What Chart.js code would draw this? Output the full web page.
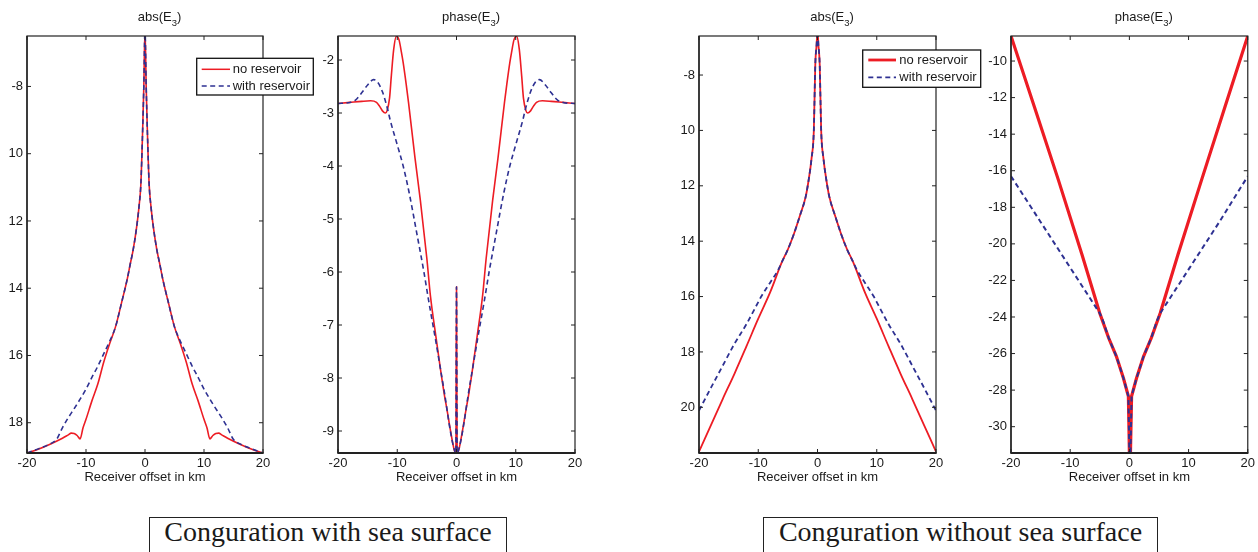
<!DOCTYPE html>
<html>
<head>
<meta charset="utf-8">
<script src="https://cdn.jsdelivr.net/npm/chart.js@4/dist/chart.umd.min.js"></script>
<style>
  html, body { margin: 0; padding: 0; background: #fff; width: 1258px; height: 552px; overflow: hidden; position: relative; }
  canvas { position: absolute; top: 0; }
  .caption {
    position: absolute; top: 517px; height: 44px; box-sizing: border-box;
    border: 1.3px solid #222; background: #fff;
    font: 28px "Liberation Serif", "Times New Roman", serif; line-height: 28px;
    color: #1a1a1a; text-align: center; white-space: nowrap;
  }
</style>
</head>
<body>
<canvas id="p1"></canvas>
<canvas id="p2"></canvas>
<canvas id="p3"></canvas>
<canvas id="p4"></canvas>
<div class="caption" style="left:149px; width:358px;">Conguration with sea surface</div>
<div class="caption" style="left:763px; width:395px;">Conguration without sea surface</div>
<script>
// ---- shared axis data ----
const offsetTicks = [-20, -10, 0, 10, 20];
const offsetLabels = ['-20', '-10', '0', '10', '20'];
const seriesNames = ['no reservoir', 'with reservoir'];

// ---- abs(E3), with sea surface ----
const absSeaTicks = [-8, -10, -12, -14, -16, -18];
const absSeaLabels = ['-8', '10', '12', '14', '16', '18'];
const absSeaNoResX = [-20,-18,-16,-14,-13,-12.5,-12,-11.5,-11,-10.5,-10,-9,-8,-7,-6,-5,-4,-3,-2.5,-2,-1.5,-1,-0.7,-0.4,-0.2,0,
  0.2,0.4,0.7,1,1.5,2,2.5,3,4,5,6,7,8,9,10,10.5,11,11.5,12,12.5,13,14,16,18,20];
const absSeaNoRes = [-18.9,-18.78,-18.63,-18.46,-18.36,-18.31,-18.32,-18.38,-18.48,-18.15,-17.9,-17.35,-16.85,-16.2,-15.65,-15.15,-14.45,-13.72,-13.28,-12.85,-12.29,-11.55,-10.9,-9.31,-8.0,-6.3,
  -8.0,-9.31,-10.9,-11.55,-12.29,-12.85,-13.28,-13.72,-14.45,-15.15,-15.65,-16.2,-16.85,-17.35,-17.9,-18.15,-18.48,-18.38,-18.32,-18.31,-18.36,-18.46,-18.63,-18.78,-18.9];
const absSeaWithResX = [-20,-18,-16,-15,-14,-13,-12,-11,-10,-9,-8,-7,-6,-5,-4,-3,-2.5,-2,-1.5,-1,-0.7,-0.4,-0.2,0,
  0.2,0.4,0.7,1,1.5,2,2.5,3,4,5,6,7,8,9,10,11,12,13,14,15,16,18,20];
const absSeaWithRes = [-18.9,-18.77,-18.62,-18.5,-18.15,-17.85,-17.58,-17.3,-17.0,-16.65,-16.32,-15.95,-15.58,-15.15,-14.45,-13.72,-13.28,-12.85,-12.29,-11.55,-10.9,-9.31,-8.0,-6.3,
  -8.0,-9.31,-10.9,-11.55,-12.29,-12.85,-13.28,-13.72,-14.45,-15.15,-15.58,-15.95,-16.32,-16.65,-17.0,-17.3,-17.58,-17.85,-18.15,-18.5,-18.62,-18.77,-18.9];

// ---- phase(E3), with sea surface ----
const phaseSeaTicks = [-2, -3, -4, -5, -6, -7, -8, -9];
const phaseSeaLabels = ['-2', '-3', '-4', '-5', '-6', '-7', '-8', '-9'];
const phaseSeaNoResX = [-20,-18,-16,-14.5,-13.5,-13,-12.5,-12,-11.7,-11.3,-11,-10.6,-10.15,-9.7,-9.3,-9,-8.5,-8.1,-7,-6.1,-5,-4.4,-3.5,-2.75,-2,-1.6,-1,-0.4,-0.1,0,
  0.1,0.4,1,1.6,2,2.75,3.5,4.4,5,6.1,7,8.1,8.5,9,9.3,9.7,10.15,10.6,11,11.3,11.7,12,12.5,13,13.5,14.5,16,18,20];
const phaseSeaNoRes = [-2.82,-2.8,-2.78,-2.77,-2.8,-2.87,-2.96,-3.0,-2.95,-2.72,-2.3,-1.8,-1.55,-1.62,-1.85,-2.05,-2.45,-2.8,-3.85,-4.65,-5.75,-6.45,-7.2,-7.8,-8.35,-8.6,-9.0,-9.35,-9.42,-6.28,
  -9.42,-9.35,-9.0,-8.6,-8.35,-7.8,-7.2,-6.45,-5.75,-4.65,-3.85,-2.8,-2.45,-2.05,-1.85,-1.62,-1.55,-1.8,-2.3,-2.72,-2.95,-3.0,-2.96,-2.87,-2.8,-2.77,-2.78,-2.8,-2.82];
const phaseSeaWithResX = [-20,-18,-17,-16,-15,-14,-13.3,-12.5,-11.6,-11.2,-10,-9,-8,-6.7,-5.5,-4.7,-3.5,-2.75,-2,-1.07,-0.5,-0.1,0,
  0.1,0.5,1.07,2,2.75,3.5,4.7,5.5,6.7,8,9,10,11.2,11.6,12.5,13.3,14,15,16,17,18,20];
const phaseSeaWithRes = [-2.82,-2.8,-2.75,-2.62,-2.47,-2.37,-2.42,-2.6,-2.94,-3.13,-3.6,-4.0,-4.5,-5.27,-6.0,-6.54,-7.3,-7.8,-8.3,-8.98,-9.3,-9.42,-6.28,
  -9.42,-9.3,-8.98,-8.3,-7.8,-7.3,-6.54,-6.0,-5.27,-4.5,-4.0,-3.6,-3.13,-2.94,-2.6,-2.42,-2.37,-2.47,-2.62,-2.75,-2.8,-2.82];

// ---- abs(E3), without sea surface ----
const absAirTicks = [-8, -10, -12, -14, -16, -18, -20];
const absAirLabels = ['-8', '10', '12', '14', '16', '18', '20'];
const absAirNoResX = [-20,-18,-16,-14,-12,-10,-8,-6,-5,-4,-3,-2,-1.5,-1,-0.62,-0.37,-0.15,0,
  0.15,0.37,0.62,1,1.5,2,3,4,5,6,8,10,12,14,16,18,20];
const absAirNoRes = [-21.6,-20.65,-19.7,-18.78,-17.8,-16.8,-15.85,-14.75,-14.3,-13.75,-13.1,-12.4,-11.8,-11.0,-10.0,-7.6,-6.9,-6.4,
  -6.9,-7.6,-10.0,-11.0,-11.8,-12.4,-13.1,-13.75,-14.3,-14.75,-15.85,-16.8,-17.8,-18.78,-19.7,-20.65,-21.6];
const absAirWithResX = [-20,-18,-16,-14,-12,-10,-9.5,-8,-6.6,-6,-5,-4,-3,-2,-1.5,-1,-0.62,-0.37,-0.15,0,
  0.15,0.37,0.62,1,1.5,2,3,4,5,6,6.6,8,9.5,10,12,14,16,18,20];
const absAirWithRes = [-20.12,-19.3,-18.5,-17.7,-17.0,-16.2,-16.0,-15.5,-15.02,-14.75,-14.3,-13.75,-13.1,-12.4,-11.8,-11.0,-10.0,-7.6,-6.9,-6.4,
  -6.9,-7.6,-10.0,-11.0,-11.8,-12.4,-13.1,-13.75,-14.3,-14.75,-15.02,-15.5,-16.0,-16.2,-17.0,-17.7,-18.5,-19.3,-20.12];

// ---- phase(E3), without sea surface ----
const phaseAirTicks = [-10, -12, -14, -16, -18, -20, -22, -24, -26, -28, -30];
const phaseAirLabels = ['-10', '-12', '-14', '-16', '-18', '-20', '-22', '-24', '-26', '-28', '-30'];
const phaseAirNoResX = [-20,-16,-12,-8,-5,-3.5,-2.2,-1,-0.17,0.09,0.37,1.2,2.4,3.7,5.2,8.2,12.2,16.1,20];
const phaseAirNoRes = [-8.63,-12.55,-16.5,-20.6,-23.8,-25.15,-26.15,-27.35,-28.34,-33,-28.34,-27.35,-26.15,-25.15,-23.8,-20.6,-16.5,-12.55,-8.63];
const phaseAirWithResX = [-20,-15,-10,-7,-5,-4.4,-3.5,-2.2,-1,-0.17,0.09,0.37,1.2,2.4,3.7,4.6,5.2,7.2,10.2,15.2,20];
const phaseAirWithRes = [-16.3,-18.8,-21.3,-22.8,-23.8,-24.25,-25.15,-26.15,-27.35,-28.34,-33,-28.34,-27.35,-26.15,-25.15,-24.25,-23.8,-22.8,-21.3,-18.8,-16.3];

// ---- styling ----
const RED = '#ed1c24';
const BLUE = '#2e3192';
const INK = '#1a1a1a';
const FONT = '"Liberation Sans", Arial, sans-serif';
const CANVAS_H = 500;
const PLOT_TOP = 36;
const PLOT_BOTTOM = 453;

const panels = [
  { id: 'p1', left: 0, axisW: 27, plotW: 236, padR: 52,
    title: ['abs(E', '3', ')'], yMin: -18.9, yMax: -6.5, yTicks: absSeaTicks, yLabels: absSeaLabels,
    redX: absSeaNoResX, redY: absSeaNoRes, blueX: absSeaWithResX, blueY: absSeaWithRes,
    redW: 1.6, blueW: 1.6, smooth: true,
    legend: { x: 169.7, y: 22.3, w: 116.6, h: 36.7, rows: [11, 27.7], l0: 5, l1: 33.3, tx: 36, redW: 1.5, blueW: 1.6 } },
  { id: 'p2', left: 298, axisW: 40, plotW: 237, padR: 20,
    title: ['phase(E', '3', ')'], yMin: -9.415, yMax: -1.547, yTicks: phaseSeaTicks, yLabels: phaseSeaLabels,
    redX: phaseSeaNoResX, redY: phaseSeaNoRes, blueX: phaseSeaWithResX, blueY: phaseSeaWithRes,
    redW: 1.6, blueW: 1.6, smooth: true, legend: null },
  { id: 'p3', left: 659, axisW: 40, plotW: 237, padR: 46,
    title: ['abs(E', '3', ')'], yMin: -21.65, yMax: -6.59, yTicks: absAirTicks, yLabels: absAirLabels,
    redX: absAirNoResX, redY: absAirNoRes, blueX: absAirWithResX, blueY: absAirWithRes,
    redW: 1.8, blueW: 1.8, smooth: true,
    legend: { x: 163.7, y: 14, w: 118, h: 37.3, rows: [10, 27.3], l0: 5.6, l1: 33.3, tx: 36.6, redW: 2.8, blueW: 1.8 } },
  { id: 'p4', left: 971, axisW: 40, plotW: 237, padR: 10,
    title: ['phase(E', '3', ')'], yMin: -31.44, yMax: -8.63, yTicks: phaseAirTicks, yLabels: phaseAirLabels,
    redX: phaseAirNoResX, redY: phaseAirNoRes, blueX: phaseAirWithResX, blueY: phaseAirWithRes,
    redW: 3.2, blueW: 2.0, smooth: false, legend: null }
];

function toPoints(xs, ys) {
  return xs.map((x, i) => ({ x: x, y: ys[i] }));
}

// Box, inward ticks, subscripted title and legend for one panel
function makeDecor(p) {
  return {
    id: 'panelDecor',
    afterDraw(chart) {
      const { ctx, chartArea: a, scales } = chart;
      const xs = scales.x, ys = scales.y;
      const line = (x0, y0, x1, y1) => { ctx.beginPath(); ctx.moveTo(x0, y0); ctx.lineTo(x1, y1); ctx.stroke(); };
      ctx.save();
      ctx.strokeStyle = '#222';
      ctx.lineWidth = 1.2;
      ctx.strokeRect(a.left, a.top, a.right - a.left, a.bottom - a.top);
      ctx.lineWidth = 2;
      line(a.left - 0.5, a.bottom, a.right + 0.5, a.bottom);
      ctx.lineWidth = 1.4;
      line(a.left, a.top, a.left, a.bottom);

      ctx.lineWidth = 1;
      const tl = 4;
      xs.ticks.forEach(t => {
        const px = xs.getPixelForValue(t.value);
        line(px, a.bottom, px, a.bottom - tl);
        line(px, a.top, px, a.top + tl);
      });
      ys.ticks.forEach(t => {
        const py = ys.getPixelForValue(t.value);
        line(a.left, py, a.left + tl, py);
        line(a.right, py, a.right - tl, py);
      });

      // title with subscript
      const [base, sub, tail] = p.title;
      const mainFont = '13px ' + FONT, subFont = '9.5px ' + FONT;
      ctx.font = mainFont; const wb = ctx.measureText(base).width; const wt = ctx.measureText(tail).width;
      ctx.font = subFont; const ws = ctx.measureText(sub).width;
      const cx = (a.left + a.right) / 2 + 14.5;
      let tx = cx - (wb + ws + wt) / 2;
      ctx.fillStyle = INK;
      ctx.textAlign = 'left';
      ctx.textBaseline = 'alphabetic';
      ctx.font = mainFont; ctx.fillText(base, tx, 21); tx += wb;
      ctx.font = subFont; ctx.fillText(sub, tx, 25.5); tx += ws;
      ctx.font = mainFont; ctx.fillText(tail, tx, 21);

      // legend
      const lg = p.legend;
      if (lg) {
        const bx = a.left + lg.x, by = a.top + lg.y;
        ctx.fillStyle = '#fff';
        ctx.fillRect(bx, by, lg.w, lg.h);
        ctx.strokeStyle = '#111';
        ctx.lineWidth = 1.3;
        ctx.strokeRect(bx, by, lg.w, lg.h);
        const ds = chart.data.datasets;
        ds.forEach((d, i) => {
          const yy = by + lg.rows[i];
          ctx.strokeStyle = d.borderColor;
          ctx.lineWidth = i === 0 ? lg.redW : lg.blueW;
          ctx.setLineDash(d.borderDash || []);
          line(bx + lg.l0, yy, bx + lg.l1, yy);
          ctx.setLineDash([]);
          ctx.fillStyle = INK;
          ctx.font = '13px ' + FONT;
          ctx.textBaseline = 'middle';
          ctx.fillText(d.label, bx + lg.tx, yy + 0.5);
        });
      }
      ctx.restore();
    }
  };
}

function buildPanel(p) {
  const canvas = document.getElementById(p.id);
  const w = p.axisW + p.plotW + p.padR;
  canvas.width = w;
  canvas.height = CANVAS_H;
  canvas.style.width = w + 'px';
  canvas.style.height = CANVAS_H + 'px';
  canvas.style.left = p.left + 'px';
  const tickFont = { family: FONT, size: 13 };
  new Chart(canvas, {
    type: 'line',
    data: {
      datasets: [
        { label: seriesNames[0], data: toPoints(p.redX, p.redY), borderColor: RED, borderWidth: p.redW,
          pointRadius: 0, fill: false, tension: 0, cubicInterpolationMode: p.smooth ? 'monotone' : 'default', order: 2 },
        { label: seriesNames[1], data: toPoints(p.blueX, p.blueY), borderColor: BLUE, borderWidth: p.blueW,
          borderDash: [5, 3.5], pointRadius: 0, fill: false, tension: 0, cubicInterpolationMode: p.smooth ? 'monotone' : 'default', order: 1 }
      ]
    },
    options: {
      responsive: false,
      animation: false,
      devicePixelRatio: 1,
      layout: { padding: { top: PLOT_TOP, right: p.padR, left: 0, bottom: 0 } },
      plugins: { legend: { display: false }, tooltip: { enabled: false }, title: { display: false } },
      scales: {
        x: {
          type: 'linear', min: -20, max: 20,
          afterBuildTicks: s => { s.ticks = offsetTicks.map(v => ({ value: v })); },
          afterFit: s => { s.height = CANVAS_H - PLOT_BOTTOM; },
          grid: { display: false, drawTicks: false }, border: { display: false },
          ticks: { padding: 3, color: INK, font: tickFont, autoSkip: false, maxRotation: 0,
                   callback: (v, i) => offsetLabels[i] },
          title: { display: true, text: 'Receiver offset in km', color: INK, font: tickFont, padding: { top: 0, bottom: 15 } }
        },
        y: {
          type: 'linear', min: p.yMin, max: p.yMax,
          afterBuildTicks: s => { s.ticks = p.yTicks.map(v => ({ value: v })); },
          afterFit: s => { s.width = p.axisW; },
          grid: { display: false, drawTicks: false }, border: { display: false },
          ticks: { padding: 4, color: INK, font: tickFont, autoSkip: false,
                   callback: (v, i) => p.yLabels[i] }
        }
      }
    },
    plugins: [makeDecor(p)]
  });
}

panels.forEach(buildPanel);
</script>
</body>
</html>
